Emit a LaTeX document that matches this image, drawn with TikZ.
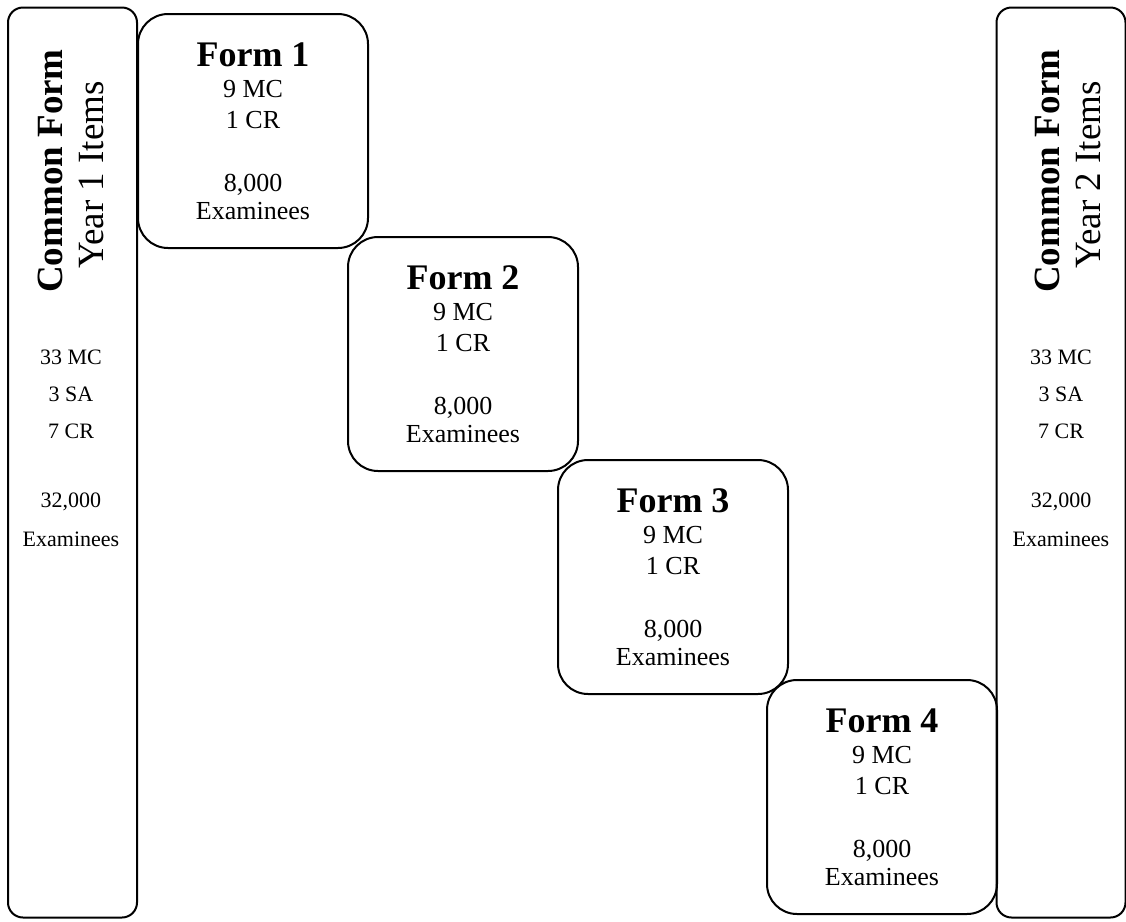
\documentclass[tikz,border=0pt]{standalone}
\usepackage{fontspec}
\setmainfont{Liberation Serif}
\usetikzlibrary{positioning}
\tikzset{
  sidebox/.style={draw, line width=1pt, rounded corners=7.5pt, minimum width=64.5pt, minimum height=455pt},
  formbox/.style={draw, line width=1pt, rounded corners=15pt, minimum width=115pt, minimum height=117pt},
  formtitle/.style={font=\fontsize{18}{18}\selectfont\bfseries, inner sep=0pt, anchor=base},
  formtext/.style={font=\fontsize{13}{13}\selectfont, inner sep=0pt, anchor=base},
  sidetext/.style={font=\fontsize{11}{12}\selectfont, inner sep=0pt, anchor=base},
  sidetitle/.style={rotate=90, font=\fontsize{18.5}{20}\selectfont, inner sep=0pt}
}
\begin{document}
\begin{tikzpicture}[x=0.5pt,y=-0.5pt]
    \useasboundingbox (0,0) rectangle (1126,922);
    % common forms
    \node[sidebox] (lbox) at (72.5,462.5) {};
    \node[sidebox] (rbox) at (1061,462.5) {};
    \node[sidetitle, font=\fontsize{18.5}{20}\selectfont\bfseries] (ltitle) at (50,171) {Common Form};
    \node[sidetitle] (lyear) at (91,175) {Year 1 Items};
    \node[sidetitle, font=\fontsize{18.5}{20}\selectfont\bfseries] (rtitle) at (1047,171) {Common Form};
    \node[sidetitle] (ryear) at (1088,175) {Year 2 Items};
    \node[sidetext] (lmc) at (71,364) {33 MC};
    \node[sidetext] (lsa) at (71,401) {3 SA};
    \node[sidetext] (lcr) at (71,438) {7 CR};
    \node[sidetext] (ln) at (71,507) {32,000};
    \node[sidetext] (lex) at (71,546) {Examinees};
    \node[sidetext] (rmc) at (1061,364) {33 MC};
    \node[sidetext] (rsa) at (1061,401) {3 SA};
    \node[sidetext] (rcr) at (1061,438) {7 CR};
    \node[sidetext] (rn) at (1061,507) {32,000};
    \node[sidetext] (rex) at (1061,546) {Examinees};
    % forms
    \node[formbox] (f1) at (253,131) {};
    \node[formbox] (f2) at (463,354) {};
    \node[formbox] (f3) at (673,577) {};
    \node[formbox] (f4) at (882,797) {};
    % form 1
    \node[formtitle] (f1t) at ([yshift=-26.5pt]f1.north) {Form 1};
    \node[formtext] (f1mc) at ([yshift=-42pt]f1.north) {9 MC};
    \node[formtext] (f1cr) at ([yshift=-57.5pt]f1.north) {1 CR};
    \node[formtext] (f1n) at ([yshift=-89pt]f1.north) {8,000};
    \node[formtext] (f1ex) at ([yshift=-103pt]f1.north) {Examinees};
    % form 2
    \node[formtitle] (f2t) at ([yshift=-26.5pt]f2.north) {Form 2};
    \node[formtext] (f2mc) at ([yshift=-42pt]f2.north) {9 MC};
    \node[formtext] (f2cr) at ([yshift=-57.5pt]f2.north) {1 CR};
    \node[formtext] (f2n) at ([yshift=-89pt]f2.north) {8,000};
    \node[formtext] (f2ex) at ([yshift=-103pt]f2.north) {Examinees};
    % form 3
    \node[formtitle] (f3t) at ([yshift=-26.5pt]f3.north) {Form 3};
    \node[formtext] (f3mc) at ([yshift=-42pt]f3.north) {9 MC};
    \node[formtext] (f3cr) at ([yshift=-57.5pt]f3.north) {1 CR};
    \node[formtext] (f3n) at ([yshift=-89pt]f3.north) {8,000};
    \node[formtext] (f3ex) at ([yshift=-103pt]f3.north) {Examinees};
    % form 4
    \node[formtitle] (f4t) at ([yshift=-26.5pt]f4.north) {Form 4};
    \node[formtext] (f4mc) at ([yshift=-42pt]f4.north) {9 MC};
    \node[formtext] (f4cr) at ([yshift=-57.5pt]f4.north) {1 CR};
    \node[formtext] (f4n) at ([yshift=-89pt]f4.north) {8,000};
    \node[formtext] (f4ex) at ([yshift=-103pt]f4.north) {Examinees};
\end{tikzpicture}
\end{document}
